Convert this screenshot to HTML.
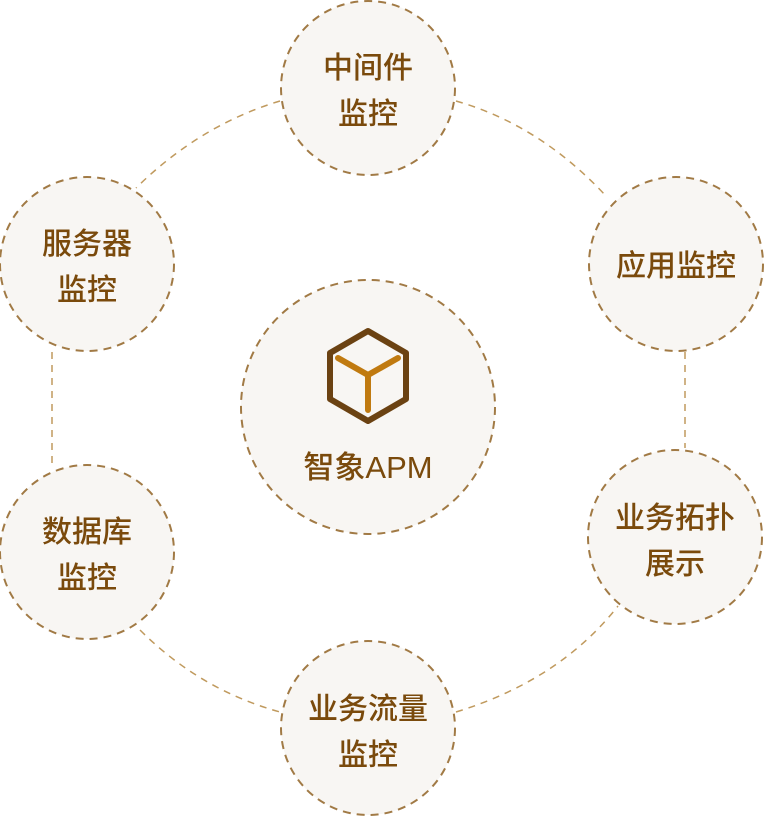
<!DOCTYPE html>
<html><head><meta charset="utf-8"><style>
html,body{margin:0;padding:0;background:#fff;}
svg{display:block}
text{font-family:"Liberation Sans","Noto Sans CJK SC",sans-serif;fill:#7a4a0c;font-size:30px;font-weight:500;text-anchor:middle;}
</style></head><body>
<svg width="764" height="818" viewBox="0 0 764 818" xmlns="http://www.w3.org/2000/svg">
<g fill="none" stroke="#c09a5e" stroke-width="1.5" stroke-dasharray="7 6">
<path d="M280 101 Q200 125 136 188"/>
<path d="M456 101 Q540 125 606 196"/>
<path d="M52 352 L52 465"/>
<path d="M685 352 L685 448"/>
<path d="M140 630 Q200 690 280 712"/>
<path d="M456 712 Q560 680 618 606"/>
</g>
<g fill="#f8f6f3" stroke="#a17a45" stroke-width="2" stroke-dasharray="8 6">
<circle cx="368" cy="88" r="87"/>
<circle cx="87" cy="264" r="87"/>
<circle cx="676" cy="264" r="87"/>
<circle cx="87" cy="552" r="87"/>
<circle cx="675" cy="537" r="87"/>
<circle cx="368" cy="728" r="87"/>
<circle cx="368" cy="407" r="127"/>
</g>
<text x="368" y="78">中间件</text><text x="368" y="124">监控</text>
<text x="87" y="254">服务器</text><text x="87" y="300">监控</text>
<text x="676" y="276">应用监控</text>
<text x="87" y="542">数据库</text><text x="87" y="588">监控</text>
<text x="675" y="528">业务拓扑</text><text x="675" y="574">展示</text>
<text x="368" y="719">业务流量</text><text x="368" y="765">监控</text>
<text x="368" y="478" style="font-size:31px">智象APM</text>
<g fill="none" stroke-linejoin="round">
<path d="M368 331 L406 353 L406 399 L368 421 L330 399 L330 353 Z" stroke="#6b4212" stroke-width="6"/>
<path d="M338 358 L368 375 L398 358 M368 375 L368 410" stroke="#c07a10" stroke-width="6" stroke-linecap="round"/>
</g>
</svg>
</body></html>
